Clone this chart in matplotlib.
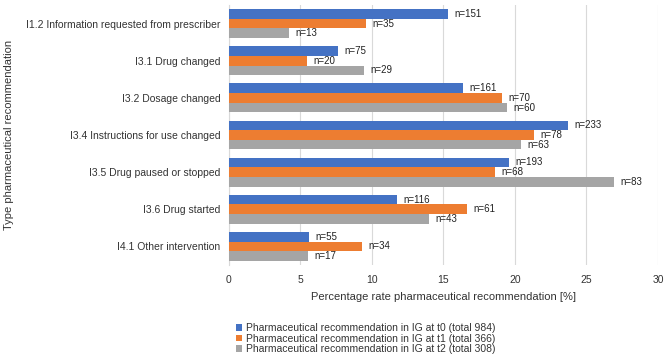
import numpy as np
import matplotlib
import matplotlib.pyplot as plt

matplotlib.use("Agg")
plt.rcParams['font.family'] = ['Liberation Sans', 'DejaVu Sans']

categories = ["I1.2 Information requested from prescriber",
              "I3.1 Drug changed",
              "I3.2 Dosage changed",
              "I3.4 Instructions for use changed",
              "I3.5 Drug paused or stopped",
              "I3.6 Drug started",
              "I4.1 Other intervention"]

pct_t0 = [15.35, 7.62, 16.36, 23.68, 19.61, 11.79, 5.59]
pct_t1 = [9.56, 5.46, 19.13, 21.31, 18.58, 16.67, 9.29]
pct_t2 = [4.22, 9.42, 19.48, 20.45, 26.95, 13.96, 5.52]

n_t0 = [151, 75, 161, 233, 193, 116, 55]
n_t1 = [35, 20, 70, 78, 68, 61, 34]
n_t2 = [13, 29, 60, 63, 83, 43, 17]

series_labels = ["Pharmaceutical recommendation in IG at t0 (total 984)",
                 "Pharmaceutical recommendation in IG at t1 (total 366)",
                 "Pharmaceutical recommendation in IG at t2 (total 308)"]
colors = ["#4472C4", "#ED7D31", "#A5A5A5"]

fig = plt.figure(figsize=(6.69, 3.61), dpi=100)
ax = fig.add_axes([0.342, 0.266, 0.6415, 0.72])

y = np.arange(len(categories))
h = 0.26
for k, (vals, ns) in enumerate([(pct_t0, n_t0), (pct_t1, n_t1), (pct_t2, n_t2)]):
    pos = y + (k - 1) * h
    ax.barh(pos, vals, height=h, color=colors[k], label=series_labels[k], zorder=3)
    for p, v, n in zip(pos, vals, ns):
        ax.text(v + 0.45, p, f"n={n}", va="center", ha="left",
                fontsize=7, color="#222222")

ax.set_xlim(0, 30)
ax.set_ylim(len(categories) - 0.5, -0.5)
ax.set_xticks(np.arange(0, 31, 5))
ax.set_yticks(y)
ax.set_yticklabels(categories)
ax.tick_params(axis="both", length=0, labelsize=7.5, colors="#333333")
ax.tick_params(axis="y", pad=6)
ax.tick_params(axis="x", pad=7)
ax.grid(axis="x", color="#D9D9D9", linewidth=0.8, zorder=0)
for s in ["top", "right", "bottom"]:
    ax.spines[s].set_visible(False)
ax.spines["left"].set_color("#D9D9D9")

ax.set_xlabel("Percentage rate pharmaceutical recommendation [%]",
              fontsize=8, color="#333333", labelpad=5)
fig.text(0.013, 0.626, "Type pharmaceutical recommendation", rotation=90,
         va="center", ha="center", fontsize=8, color="#333333")

fig.legend(loc="upper left", bbox_to_anchor=(0.353, 0.105), fontsize=7.5,
           frameon=False, handlelength=0.6, handleheight=0.6,
           handletextpad=0.3, labelspacing=0.05, borderaxespad=0,
           borderpad=0, labelcolor="#333333")

fig.savefig("out.png", dpi=100)
